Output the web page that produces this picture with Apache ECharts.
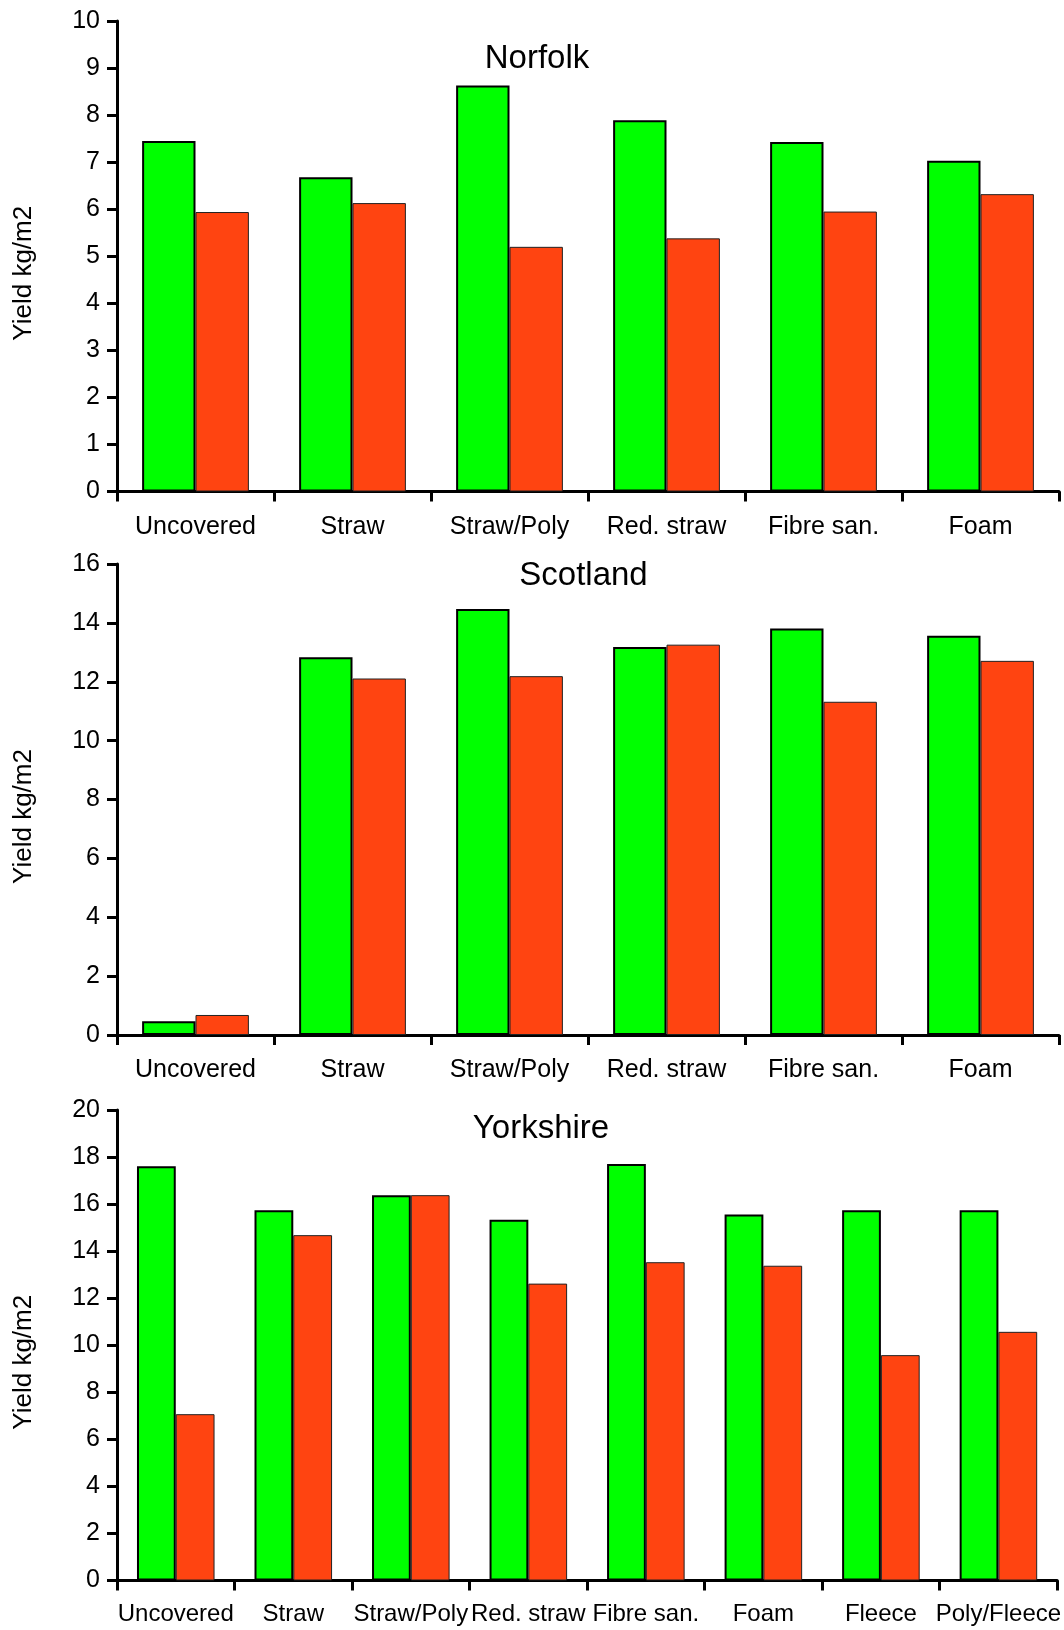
<!DOCTYPE html>
<html>
<head>
<meta charset="utf-8">
<script src="https://cdn.jsdelivr.net/npm/echarts@6/dist/echarts.min.js"></script>
<style>
html,body{margin:0;padding:0;background:#fff;}
#chart{width:1064px;height:1630px;}
</style>
</head>
<body>
<div id="chart"></div>
<script>
const categories6 = ['Uncovered', 'Straw', 'Straw/Poly', 'Red. straw', 'Fibre san.', 'Foam'];
const categories8 = ['Uncovered', 'Straw', 'Straw/Poly', 'Red. straw', 'Fibre san.', 'Foam', 'Fleece', 'Poly/Fleece'];
const panelTitles = ['Norfolk', 'Scotland', 'Yorkshire'];
const yAxisName = 'Yield kg/m2';

const norfolkGreen = [7.45, 6.68, 8.63, 7.89, 7.43, 7.03];
const norfolkRed = [5.94, 6.13, 5.20, 5.38, 5.95, 6.32];
const scotlandGreen = [0.47, 12.83, 14.47, 13.18, 13.81, 13.56];
const scotlandRed = [0.68, 12.11, 12.19, 13.26, 11.32, 12.71];
const yorkshireGreen = [17.61, 15.74, 16.38, 15.33, 17.70, 15.56, 15.74, 15.74];
const yorkshireRed = [7.07, 14.68, 16.38, 12.62, 13.53, 13.38, 9.58, 10.57];

const yMax = [10, 16, 20];
const yStep = [1, 2, 2];

const FONT = '"Liberation Sans", Arial, Helvetica, sans-serif';
const GREEN = '#00ff00';
const RED = '#ff4411';

const grids = [
  {left: 117, top: 21, width: 942, height: 470.5},
  {left: 117, top: 564, width: 942, height: 471},
  {left: 117, top: 1110, width: 942, height: 470.5}
];

const cats = [categories6, categories6, categories8];
const greens = [norfolkGreen, scotlandGreen, yorkshireGreen];
const reds = [norfolkRed, scotlandRed, yorkshireRed];
const barW = ['34%', '34%', '33%'];
const catFont = [25, 25, 24];
const catMargin = [23, 23, 22];
const titlePos = [[537, 59], [583.5, 576], [541, 1128.5]];

const axisLine = {show: true, onZero: false, lineStyle: {color: '#000', width: 3}};
const axisTick = {show: true, inside: false, length: 10, lineStyle: {color: '#000', width: 3}};

const xAxis = [], yAxis = [], series = [], title = [];
for (let i = 0; i < 3; i++) {
  xAxis.push({
    type: 'category', gridIndex: i, data: cats[i], boundaryGap: true,
    axisLine: axisLine,
    axisTick: Object.assign({alignWithLabel: false, interval: 0}, axisTick),
    axisLabel: {interval: 0, color: '#000', fontSize: catFont[i], fontFamily: FONT, margin: catMargin[i]},
    splitLine: {show: false}
  });
  yAxis.push({
    type: 'value', gridIndex: i, min: 0, max: yMax[i], interval: yStep[i],
    name: yAxisName, nameLocation: 'middle', nameGap: 80, nameRotate: 90,
    nameTextStyle: {color: '#000', fontSize: 26, fontFamily: FONT, padding: [0, 34, 0, 0]},
    axisLine: axisLine, axisTick: axisTick,
    axisLabel: {color: '#000', fontSize: 25, fontFamily: FONT, margin: 17},
    splitLine: {show: false}
  });
  series.push({
    type: 'bar', xAxisIndex: i, yAxisIndex: i, data: greens[i],
    barWidth: barW[i], barGap: '0%',
    itemStyle: {color: GREEN, borderColor: '#000', borderWidth: 2},
    z: 3
  });
  series.push({
    type: 'bar', xAxisIndex: i, yAxisIndex: i, data: reds[i],
    barWidth: barW[i], barGap: '0%',
    itemStyle: {color: RED, borderColor: '#222', borderWidth: 1},
    z: 2
  });
  title.push({
    text: panelTitles[i], left: titlePos[i][0], top: titlePos[i][1], padding: 0,
    textAlign: 'center', textVerticalAlign: 'middle',
    textStyle: {color: '#000', fontSize: 33, fontWeight: 'normal', fontFamily: FONT}
  });
}

const chart = echarts.init(document.getElementById('chart'), null, {renderer: 'canvas'});
chart.setOption({
  animation: false,
  backgroundColor: '#fff',
  title: title,
  grid: grids,
  xAxis: xAxis,
  yAxis: yAxis,
  series: series
});
</script>
</body>
</html>
